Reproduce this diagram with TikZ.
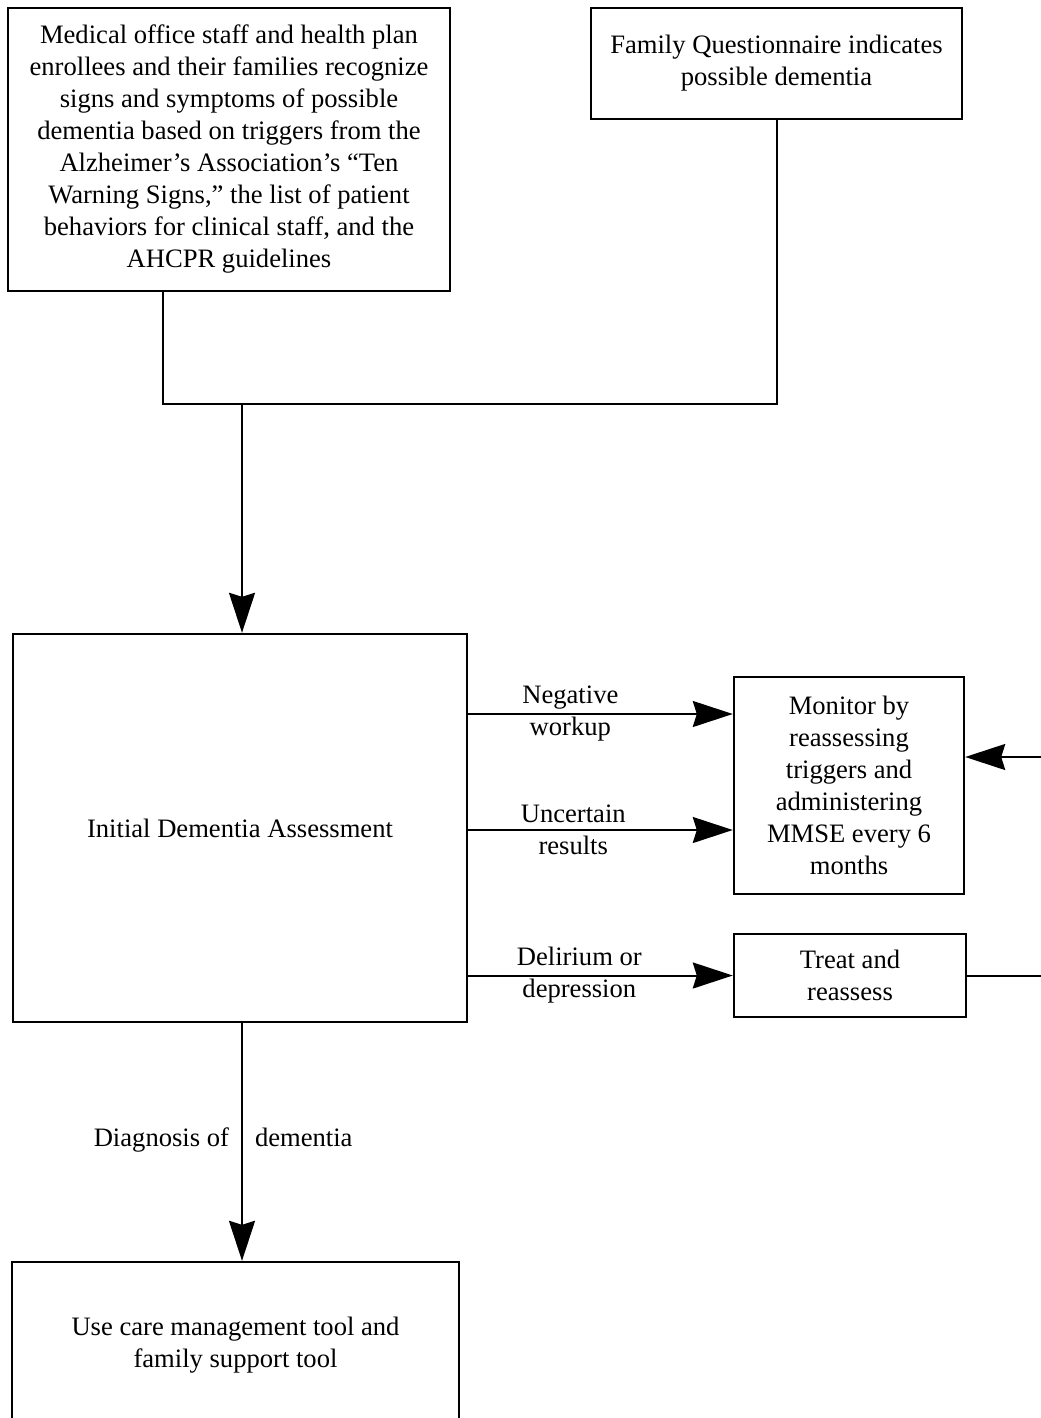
\documentclass[tikz,border=0pt]{standalone}
\usepackage{fontspec}
\setmainfont{Liberation Serif}
\usetikzlibrary{arrows.meta}
\usetikzlibrary{positioning}
\tikzset{every picture/.style={line width=1pt, >={Stealth[length=20pt, width=13pt, inset=2pt]}}}
\tikzset{flowbox/.style={draw=black, line width=1.2pt, fill=white, align=center, inner sep=0pt}}

\begin{document}
\begin{tikzpicture}[x=0.5pt, y=-0.5pt, font=\fontsize{13.3}{16}\selectfont]
        \useasboundingbox (0,0) rectangle (1040,1418);
        \node[flowbox, minimum width=221pt, minimum height=141.5pt] (signs) at (229,149.5) {Medical office staff and health plan\\enrollees and their families recognize\\signs and symptoms of possible\\dementia based on triggers from the\\Alzheimer’s Association’s “Ten\\Warning Signs,” the list of patient\\behaviors for clinical staff, and the\\AHCPR guidelines};
        \node[flowbox, minimum width=185.5pt, minimum height=55.5pt] (famq) at (776.5,63.5) {Family Questionnaire indicates\\possible dementia};
        \node[flowbox, minimum width=227pt, minimum height=194pt] (init) at (240,828) {Initial Dementia Assessment};
        \node[flowbox, minimum width=115pt, minimum height=108.5pt] (monitor) at (849,785.5) {Monitor by\\reassessing\\triggers and\\administering\\MMSE every 6\\months};
        \node[flowbox, minimum width=116pt, minimum height=41.5pt] (treat) at (850,975.5) {Treat and\\reassess};
        \node[flowbox, minimum width=223.5pt, minimum height=83pt] (care) at (235.5,1345) {Use care management tool and\\family support tool};
        \coordinate (sigfoot) at (163,291);
        \coordinate (join) at (242,404);
        \coordinate (loopr) at (1060,975.5);
        \draw (sigfoot) |- (famq.south |- join) -- (famq.south);
        \draw[->] (join) -- (join |- init.north);
        \draw[->] (init.east |- 0,714) -- node[pos=0.386, align=center] {Negative\\workup} (monitor.west |- 0,714);
        \draw[->] (init.east |- 0,830) -- node[pos=0.397, align=center] {Uncertain\\results} (monitor.west |- 0,830);
        \draw[->] (init.east |- treat.west) -- node[pos=0.42, align=center] {Delirium or\\depression} (treat.west);
        \draw[->] (treat.east) -- (loopr) |- (monitor.east |- 0,757);
        \draw[->] (join |- init.south) -- node[pos=0.5, left, inner sep=6pt, text height=0.7em, text depth=0.25em] {Diagnosis of} node[pos=0.5, right, inner sep=6pt, text height=0.7em, text depth=0.25em] {dementia} (join |- care.north);
    \end{tikzpicture}
\end{document}
